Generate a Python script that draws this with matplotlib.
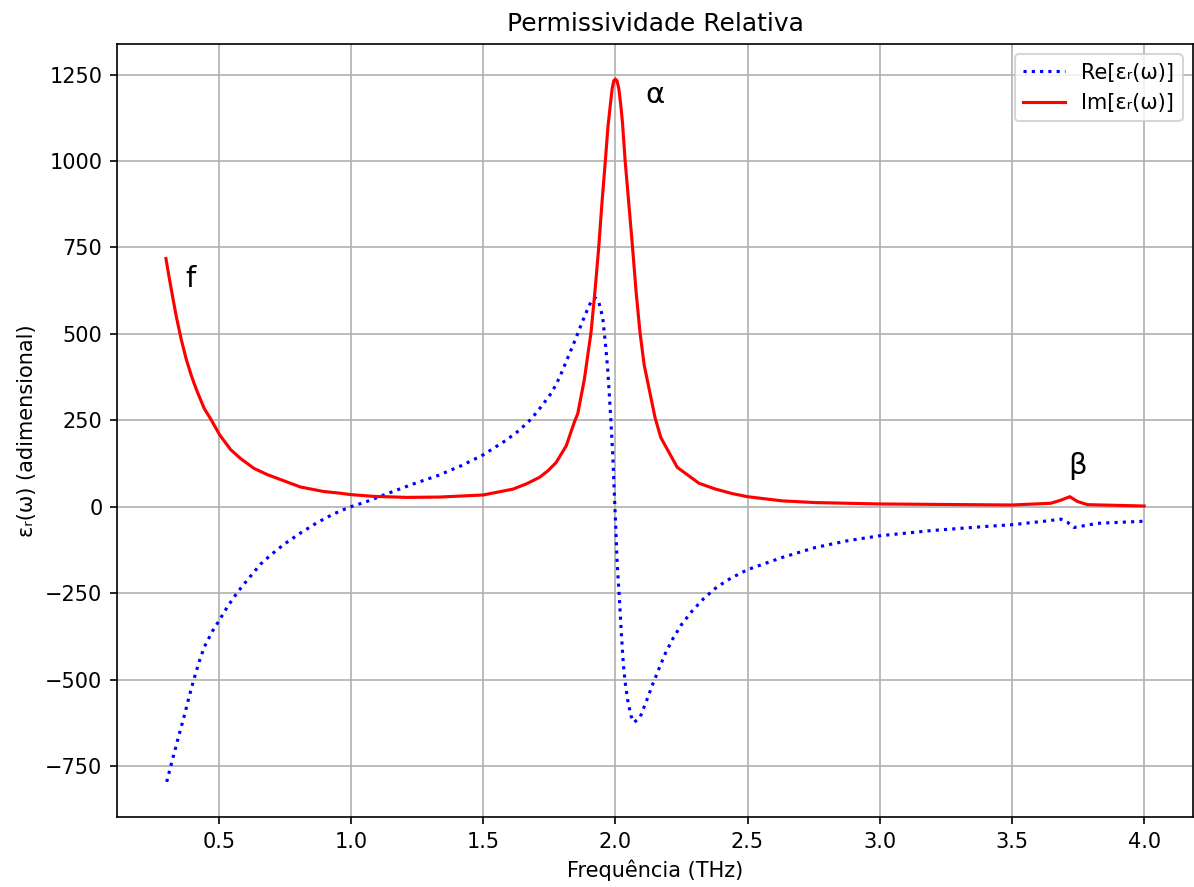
import matplotlib
matplotlib.use("Agg")
import matplotlib.pyplot as plt

# Im[eps_r]
im_freq = [0.300, 0.313, 0.326, 0.338, 0.357, 0.376, 0.395, 0.407, 0.420, 0.445,
           0.470, 0.504, 0.545, 0.583, 0.633, 0.683, 0.746, 0.809, 0.897, 0.960,
           1.000, 1.085, 1.211, 1.336, 1.500, 1.613, 1.663, 1.713, 1.745, 1.776,
           1.814, 1.845, 1.858, 1.883, 1.908, 1.923, 1.937, 1.949, 1.962, 1.972,
           1.982, 1.988, 1.994, 2.000, 2.006, 2.013, 2.020, 2.027, 2.037, 2.051,
           2.065, 2.078, 2.093, 2.109, 2.150, 2.172, 2.234, 2.316, 2.379, 2.442,
           2.500, 2.630, 2.756, 3.000, 3.500, 3.647, 3.685, 3.719, 3.748, 3.786,
           4.000]
im_vals = [718, 660, 605, 555, 487, 429, 382, 356, 330, 284,
           253, 207, 165, 139, 111, 93, 75, 57, 44, 39,
           35, 30, 27, 28, 34, 51, 66, 85, 104, 128,
           176, 245, 270, 370, 505, 625, 750, 876, 1000, 1100,
           1170, 1210, 1232, 1237, 1232, 1210, 1165, 1110, 1000, 876,
           750, 625, 505, 410, 258, 200, 114, 68, 51, 38,
           29, 17, 12, 8, 5, 10, 19, 29, 15, 6,
           2]

# Re[eps_r]
re_freq = [0.303, 0.319, 0.344, 0.369, 0.388, 0.407, 0.426, 0.445, 0.476, 0.504,
           0.533, 0.570, 0.608, 0.658, 0.696, 0.746, 0.809, 0.872, 0.934, 0.970,
           1.000, 1.060, 1.148, 1.236, 1.328, 1.418, 1.500, 1.584, 1.635, 1.682,
           1.722, 1.760, 1.789, 1.826, 1.851, 1.874, 1.899, 1.914, 1.925, 1.937,
           1.952, 1.962, 1.971, 1.977, 1.983, 1.990, 1.997, 2.002, 2.007, 2.015,
           2.022, 2.030, 2.037, 2.046, 2.059, 2.071, 2.094, 2.118, 2.140, 2.163,
           2.188, 2.218, 2.251, 2.291, 2.335, 2.383, 2.436, 2.500, 2.630, 2.756,
           2.881, 3.000, 3.195, 3.384, 3.500, 3.622, 3.685, 3.710, 3.735, 3.823,
           4.000]
re_vals = [-796, -748, -676, -606, -549, -496, -448, -406, -360, -326,
           -289, -248, -212, -166, -140, -109, -76, -46, -21, -9,
           0, 15, 41, 66, 90, 119, 150, 191, 220, 254,
           292, 331, 374, 442, 488, 533, 579, 601, 604, 593,
           548, 475, 398, 326, 249, 152, 20, -69, -166, -262,
           -359, -455, -508, -557, -605, -624, -608, -561, -516, -472,
           -426, -381, -340, -301, -265, -233, -207, -182, -147, -118,
           -98, -84, -69, -58, -52, -42, -36, -45, -60, -48,
           -42]

# peak labels (text, x, y)
peak_labels = [("f", 0.375, 637), ("α", 2.115, 1167), ("β", 3.712, 96)]

fig = plt.figure(figsize=(1194 / 150, 887 / 150), dpi=150)
ax = fig.add_axes([0.098, 0.0789, 0.9012, 0.8715])

ax.plot(re_freq, re_vals, 'b:', label='Re[εᵣ(ω)]')
ax.plot(im_freq, im_vals, 'r-', label='Im[εᵣ(ω)]')

for txt, x, y in peak_labels:
    ax.text(x, y, txt, fontsize=14)

ax.set_title('Permissividade Relativa')
ax.set_xlabel('Frequência (THz)')
ax.set_ylabel('εᵣ(ω) (adimensional)')
ax.grid(True)
ax.legend(loc='upper right')

fig.savefig('out.png', dpi=150)
